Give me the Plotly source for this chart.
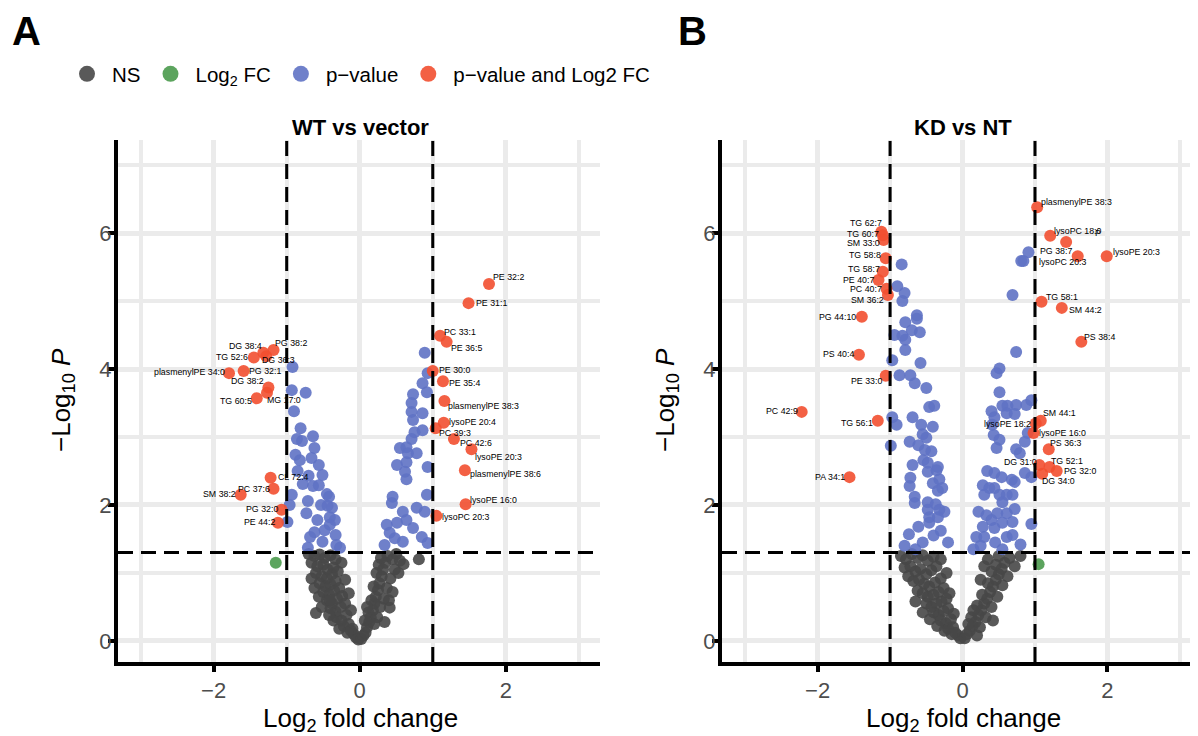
import plotly.graph_objects as go

# ---------------- Panel A: WT vs vector ----------------
A_ns = [(-0.70,1.28),(-0.62,1.25),(-0.55,1.27),(-0.48,1.22),(-0.40,1.26),(-0.33,1.20),(-0.66,1.15),(-0.58,1.10),
        (-0.50,1.12),(-0.44,1.05),(-0.36,1.08),(-0.60,1.00),(-0.52,0.95),(-0.45,0.92),(-0.38,0.98),(-0.30,1.02),
        (-0.55,0.85),(-0.47,0.80),(-0.40,0.83),(-0.33,0.88),(-0.50,0.72),(-0.42,0.68),(-0.35,0.74),(-0.28,0.78),
        (-0.45,0.60),(-0.38,0.55),(-0.31,0.62),(-0.24,0.66),(-0.40,0.48),(-0.33,0.43),(-0.26,0.50),(-0.20,0.55),
        (-0.32,0.35),(-0.25,0.30),(-0.18,0.38),(-0.22,0.22),(-0.15,0.25),(-0.12,0.15),(-0.08,0.10),(-0.05,0.05),
        (-0.02,0.02),(-0.60,0.41),(-0.10,0.18),(-0.17,0.12),(-0.28,0.18),(-0.36,0.30),(-0.42,0.38),(-0.52,0.50),
        (-0.56,0.65),(-0.62,0.78),(-0.66,0.92),(-0.25,1.15),(-0.20,0.90),(-0.15,0.70),(-0.12,0.45),(-0.41,0.60),
        (0.02,0.03),(0.05,0.08),(0.08,0.12),(0.10,0.20),(0.13,0.28),(0.15,0.35),(0.12,0.42),(0.18,0.45),
        (0.20,0.55),(0.16,0.60),(0.22,0.65),(0.25,0.75),(0.19,0.80),(0.27,0.85),(0.30,0.95),(0.23,1.00),
        (0.32,1.05),(0.26,1.12),(0.35,1.15),(0.29,1.22),(0.38,1.25),(0.45,1.20),(0.50,1.28),(0.55,1.18),
        (0.48,1.05),(0.42,0.92),(0.37,0.78),(0.33,0.62),(0.28,0.50),(0.24,0.35),(0.20,0.25),(0.40,0.60),
        (0.45,0.72),(0.60,1.13),(0.81,1.20),(0.53,1.00),(0.41,0.49),(0.34,0.28),(0.07,0.30),(0.10,0.50)]
A_fc = [(-1.15,1.15)]
A_p = [(-0.92,4.03),(-0.93,3.69),(-0.74,3.65),(-0.90,3.38),(-0.81,3.13),(-0.86,2.97),(-0.64,3.01),(-0.79,2.94),
       (-0.62,2.84),(-0.88,2.74),(-0.56,2.59),(-0.85,2.50),(-0.70,2.43),(-0.51,2.44),(-0.78,2.31),(-0.64,2.28),
       (-0.56,2.29),(-0.45,2.16),(-0.93,2.15),(-0.42,2.12),(-0.71,2.06),(-0.53,2.00),(-0.44,1.99),(-0.96,2.00),
       (-0.38,1.96),(-0.73,1.88),(-0.41,1.82),(-0.99,1.75),(-0.34,1.78),(-0.62,1.60),(-0.68,1.53),(-0.33,1.56),
       (-0.41,1.71),(-0.51,1.46),(-0.32,1.41),(-0.71,1.37),(-0.27,1.37),(-0.82,2.66),(-0.66,2.69),(-0.48,1.63),
       (-0.58,1.78),
       (0.89,4.24),(0.93,3.94),(0.86,3.79),(0.73,3.63),(0.92,3.66),(0.71,3.50),(0.71,3.37),(0.73,3.25),
       (0.86,3.35),(0.86,3.10),(0.75,3.07),(0.71,2.97),(0.55,2.84),(0.64,2.85),(0.66,2.76),(0.78,2.76),
       (0.51,2.59),(0.64,2.63),(0.93,2.56),(0.62,2.49),(0.64,2.38),(0.45,2.12),(0.44,2.03),(0.59,1.90),
       (0.78,1.96),(0.89,1.90),(0.92,2.15),(0.37,1.71),(0.51,1.74),(0.64,1.78),(0.41,1.59),(0.73,1.66),
       (0.85,1.53),(0.34,1.41),(0.48,1.51),(0.59,1.46),(0.93,1.44)]
A_both = [(-1.18,4.28),(-1.32,4.24),(-1.45,4.17),(-1.28,4.19),(-1.79,3.94),(-1.59,3.97),(-1.25,3.73),(-1.27,3.65),
          (-1.41,3.57),(-1.22,2.40),(-1.18,2.24),(-1.63,2.15),(-1.07,1.93),(-1.12,1.74),
          (1.77,5.25),(1.49,4.97),(1.10,4.49),(1.19,4.40),(1.00,3.97),(1.14,3.82),(1.16,3.53),(1.15,3.21),
          (1.04,3.13),(1.29,2.97),(1.53,2.82),(1.44,2.51),(1.45,2.01),(1.05,1.84)]
A_labels = ["PG 38:2","DG 38:4","TG 52:6","DG 36:3","plasmenylPE 34:0","PG 32:1","DG 38:2","MG 17:0",
            "TG 60:5","CL 72:4","PC 37:6","SM 38:2","PG 32:0","PE 44:2",
            "PE 32:2","PE 31:1","PC 33:1","PE 36:5","PE 30:0","PE 35:4","plasmenylPE 38:3","lysoPE 20:4",
            "PC 39:3","PC 42:6","lysoPE 20:3","plasmenylPE 38:6","lysoPE 16:0","lysoPC 20:3"]
# label placement (anchor, x shift px, y shift px)
A_label_pos = [("left",-1,7),("right",1,7),("right",-4,1),("left",-6,-4),("right",-2,1),("left",3,0),("right",-2,6),
               ("left",-2,-7),("right",-3,-3),("left",5,1),("right",-2,0),("right",-3,1),("right",-2,1),("right",-1,1),
               ("left",2,7),("left",5,0),("left",2,4),("left",2,-6),("left",4,1),("left",4,-2),("left",2,-5),
               ("left",3,1),("left",1,-5),("left",4,-4),("left",2,-8),("left",3,-4),("left",2,4),("left",4,-1)]

# ---------------- Panel B: KD vs NT ----------------
B_ns = [(-0.85,1.25),(-0.78,1.20),(-0.70,1.28),(-0.62,1.22),(-0.55,1.26),(-0.48,1.18),(-0.40,1.24),(-0.80,1.08),
        (-0.72,1.10),(-0.65,1.02),(-0.58,1.06),(-0.50,0.98),(-0.43,1.04),(-0.36,1.10),(-0.75,0.95),(-0.68,0.88),
        (-0.60,0.90),(-0.53,0.84),(-0.46,0.80),(-0.38,0.86),(-0.30,0.92),(-0.62,0.74),(-0.55,0.70),(-0.48,0.65),
        (-0.40,0.68),(-0.33,0.72),(-0.26,0.78),(-0.50,0.55),(-0.43,0.50),(-0.36,0.55),(-0.29,0.58),(-0.22,0.62),
        (-0.40,0.42),(-0.33,0.38),(-0.26,0.44),(-0.20,0.48),(-0.30,0.30),(-0.23,0.26),(-0.16,0.32),(-0.20,0.18),
        (-0.13,0.20),(-0.10,0.12),(-0.06,0.08),(-0.03,0.04),(-0.15,0.10),(-0.25,0.15),(-0.35,0.22),(-0.45,0.32),
        (-0.55,0.42),(-0.65,0.58),(-0.12,0.40),(-0.18,0.70),(-0.22,1.00),(-0.30,1.20),
        (0.03,0.04),(0.06,0.10),(0.10,0.15),(0.14,0.22),(0.18,0.28),(0.12,0.35),(0.22,0.38),(0.26,0.45),
        (0.20,0.52),(0.30,0.55),(0.34,0.62),(0.27,0.68),(0.38,0.72),(0.42,0.80),(0.35,0.85),(0.46,0.90),
        (0.50,0.98),(0.40,1.02),(0.54,1.06),(0.46,1.12),(0.58,1.15),(0.35,1.20),(0.50,1.25),(0.65,1.22),
        (0.72,1.10),(0.62,0.95),(0.55,0.82),(0.48,0.65),(0.40,0.50),(0.32,0.35),(0.24,0.20),(0.15,0.45),
        (0.25,0.90),(0.30,1.10),(0.80,1.25),(0.20,0.08),(0.08,0.25),(0.42,0.30)]
B_fc = [(1.05,1.13)]
B_p = [(-0.84,5.54),(-0.90,5.22),(-0.80,5.12),(-0.83,5.00),(-0.63,4.79),(-0.63,4.74),(-0.79,4.69),(-0.70,4.57),
       (-0.59,4.54),(-0.94,4.50),(-0.83,4.49),(-0.79,4.43),(-0.79,4.28),(-0.58,4.09),(-0.97,4.13),(-0.87,3.91),
       (-0.72,3.91),(-0.66,3.79),(-0.50,3.72),(-0.46,3.44),(-0.39,3.46),(-0.97,3.29),(-0.69,3.29),(-0.91,3.18),
       (-0.57,3.18),(-0.41,3.15),(-0.55,3.04),(-0.50,2.99),(-0.99,2.87),(-0.73,2.93),(-0.61,2.88),(-0.52,2.81),
       (-0.43,2.79),(-0.54,2.66),(-0.48,2.62),(-0.69,2.59),(-0.34,2.56),(-0.36,2.51),(-0.48,2.49),(-0.72,2.40),
       (-0.32,2.38),(-0.73,2.28),(-0.41,2.32),(-0.28,2.25),(-0.34,2.21),(-0.66,2.12),(-0.66,2.03),(-0.48,2.04),
       (-0.37,2.01),(-0.48,1.93),(-0.32,1.93),(-0.46,1.82),(-0.25,1.90),(-0.61,1.68),(-0.74,1.57),(-0.46,1.74),
       (-0.34,1.82),(-0.80,1.40),(-0.55,1.45),(-0.40,1.55),(-0.30,1.62),(-0.65,1.35),(-0.20,1.45),
       (0.91,5.72),(0.81,5.59),(0.84,5.59),(0.69,5.09),(0.74,4.25),(0.51,4.01),(0.47,3.94),(0.51,3.66),
       (0.40,3.38),(0.55,3.46),(0.62,3.46),(0.74,3.47),(0.88,3.47),(0.95,3.54),(0.44,3.29),(0.61,3.35),
       (0.72,3.34),(0.41,3.18),(0.43,3.03),(0.51,2.96),(0.47,2.84),(0.74,2.82),(0.79,2.76),(0.90,3.06),
       (0.86,2.93),(0.86,2.47),(0.95,2.41),(0.34,2.50),(0.44,2.47),(0.54,2.41),(0.68,2.37),(0.72,2.34),
       (0.28,2.29),(0.37,2.25),(0.30,2.15),(0.51,2.15),(0.61,2.15),(0.69,2.15),(0.44,2.25),(0.55,2.04),
       (0.72,1.94),(0.22,1.90),(0.33,1.85),(0.48,1.88),(0.61,1.88),(0.40,1.78),(0.55,1.74),(0.69,1.75),
       (0.95,1.72),(0.28,1.68),(0.44,1.66),(0.19,1.53),(0.30,1.53),(0.61,1.53),(0.69,1.56),(0.25,1.40),
       (0.45,1.45),(0.80,1.42),(0.15,1.35),(0.55,1.35)]
B_p_labelled = [(0.91,5.72),(0.81,5.59)]
B_p_labels = ["PG 38:7","lysoPC 20:3"]
B_p_label_pos = [("left",10,1),("left",16,-1)]
B_both = [(-1.12,6.02),(-1.10,5.97),(-1.09,5.90),(-1.06,5.63),(-1.10,5.43),(-1.16,5.31),(-1.05,5.18),(-1.03,5.09),
          (-1.39,4.77),(-1.43,4.21),(-1.06,3.90),(-2.22,3.37),(-1.17,3.24),(-1.56,2.41),
          (1.03,6.38),(1.21,5.96),(1.43,5.87),(1.99,5.66),(1.09,4.99),(1.37,4.90),(1.64,4.40),(1.08,3.24),
          (1.01,3.20),(0.98,3.06),(1.19,2.82),(1.06,2.59),(1.20,2.56),(1.30,2.50),(1.10,2.46),(1.59,5.66)]
B_labels = ["TG 62:7","TG 60:7","SM 33:0","TG 58:8","TG 58:7","PE 40:7","PC 40:7","SM 36:2",
            "PG 44:10","PS 40:4","PE 33:0","PC 42:9","TG 56:1","PA 34:1",
            "plasmenylPE 38:3","lysoPC 18:0","P","lysoPE 20:3","TG 58:1","SM 44:2","PS 38:4","SM 44:1",
            "lysoPE 18:2","lysoPE 16:0","PS 36:3","DG 31:0","TG 52:1","PG 32:0","DG 34:0",""]
B_label_pos = [("right",3,9),("right",-2,1),("right",-2,-3),("right",-3,3),("right",-1,3),("right",-2,0),("right",-2,0),
               ("right",-2,-5),("right",-4,0),("right",-3,1),("right",-2,-5),("right",-2,1),("right",-3,-2),("right",-3,0),
               ("left",2,5),("left",2,5),("left",27,9),("left",4,4),("left",2,5),("left",5,-2),("left",1,5),("left",0,8),
               ("right",-3,-1),("left",3,0),("left",-1,6),("right",0,3),("left",0,6),("left",5,0),("left",-2,-7),("left",0,0)]

LEGEND_NAMES = ["NS", "Log<sub>2</sub> FC", "p\u2212value", "p\u2212value and Log2 FC"]
COLORS = ["#474747", "#4a9a4c", "#5f72c4", "#f24f30"]

FONT = "Arial, Liberation Sans, Helvetica, sans-serif"

# page is drawn with the browser's default 8px body margin
W, H, OFF = 1190, 728, 8
def PX(px):
    return (px - OFF) / W
def PY(py):
    return 1 - (py - OFF) / H

fig = go.Figure()

panels = [
    dict(ax="", groups=[A_ns, A_fc, A_p, A_both], labs=[(A_both, A_labels, A_label_pos)],
         dom=[PX(118), PX(600)], xr=[-3.31, 3.29], title="WT vs vector", ytx=62, cx=360),
    dict(ax="2", groups=[B_ns, B_fc, B_p, B_both], labs=[(B_both, B_labels, B_label_pos),
                                                         (B_p_labelled, B_p_labels, B_p_label_pos)],
         dom=[PX(722), 1.0], xr=[-3.32, 3.25], title="KD vs NT", ytx=666, cx=963),
]

# legend-only entries
for gi, nm in enumerate(LEGEND_NAMES):
    fig.add_trace(go.Scatter(x=[None], y=[None], mode="markers", name=nm, showlegend=True,
                             marker=dict(size=16, color=COLORS[gi], opacity=0.9)))

annotations = []
for pi, p in enumerate(panels):
    xa, ya = "x" + p["ax"], "y" + p["ax"]
    for gi, pts in enumerate(p["groups"]):
        fig.add_trace(go.Scatter(
            x=[q[0] for q in pts], y=[q[1] for q in pts], mode="markers",
            name=LEGEND_NAMES[gi], showlegend=False,
            marker=dict(size=12, color=COLORS[gi], opacity=0.9, line=dict(width=0)),
            xaxis=xa, yaxis=ya, hoverinfo="skip"))
    for pts, labs, pos in p["labs"]:
        for (x, y), t, (anc, dx, dy) in zip(pts, labs, pos):
            if not t:
                continue
            annotations.append(dict(x=x, y=y, xref=xa, yref=ya, text=t, showarrow=False,
                                    xanchor=anc, yanchor="middle", xshift=dx, yshift=dy,
                                    font=dict(size=8.8, color="black", family=FONT)))
    for xv in (-1, 1):
        fig.add_shape(type="line", xref=xa, yref=ya + " domain", x0=xv, x1=xv, y0=0, y1=1,
                      line=dict(color="black", width=3, dash="15px,8px"))
    fig.add_shape(type="line", xref=xa + " domain", yref=ya, x0=0, x1=1, y0=1.30103, y1=1.30103,
                  line=dict(color="black", width=3, dash="15px,8px"))
    cx = PX(p["cx"])
    annotations.append(dict(x=cx, y=PY(128), xref="paper", yref="paper", text="<b>" + p["title"] + "</b>",
                            showarrow=False, xanchor="center", yanchor="middle",
                            font=dict(size=22, color="black", family=FONT)))
    annotations.append(dict(x=cx, y=PY(719), xref="paper", yref="paper", text="Log<sub>2</sub> fold change",
                            showarrow=False, xanchor="center", yanchor="middle",
                            font=dict(size=26, color="black", family=FONT)))
    annotations.append(dict(x=PX(p["ytx"]), y=PY(400), xref="paper", yref="paper",
                            text="\u2212Log<sub>10</sub> <i>P</i>", textangle=-90,
                            showarrow=False, xanchor="center", yanchor="middle",
                            font=dict(size=26, color="black", family=FONT)))

annotations.append(dict(x=PX(26), y=PY(31), xref="paper", yref="paper", text="<b>A</b>", showarrow=False,
                        xanchor="center", yanchor="middle", font=dict(size=40, color="black", family=FONT)))
annotations.append(dict(x=PX(692), y=PY(31), xref="paper", yref="paper", text="<b>B</b>", showarrow=False,
                        xanchor="center", yanchor="middle", font=dict(size=40, color="black", family=FONT)))

def xaxis(dom, xr, anchor):
    return dict(domain=dom, range=xr, anchor=anchor, tickvals=[-2, 0, 2], showline=True, linecolor="black",
                linewidth=4, ticks="outside", ticklen=6, tickwidth=4, tickcolor="black",
                tickfont=dict(size=22, color="#4d4d4d", family=FONT), showgrid=True, gridcolor="#ebebeb",
                gridwidth=5, zeroline=False,
                minor=dict(tickvals=[-3, -1, 1, 3], showgrid=True, gridcolor="#ebebeb", gridwidth=4, ticks=""))

def yaxis(anchor):
    return dict(domain=[PY(662), PY(140)], range=[-0.31, 7.37], anchor=anchor, tickvals=[0, 2, 4, 6],
                showline=True, linecolor="black", linewidth=4, ticks="outside", ticklen=6, tickwidth=4,
                tickcolor="black", tickfont=dict(size=22, color="#4d4d4d", family=FONT), showgrid=True,
                gridcolor="#ebebeb", gridwidth=5, zeroline=False, ticklabelstandoff=-8,
                minor=dict(tickvals=[1, 3, 5, 7], showgrid=True, gridcolor="#ebebeb", gridwidth=4, ticks=""))

fig.update_layout(
    width=W, height=H, margin=dict(l=0, r=0, t=0, b=0), paper_bgcolor="white", plot_bgcolor="white",
    xaxis=xaxis(panels[0]["dom"], panels[0]["xr"], "y"), yaxis=yaxis("x"),
    xaxis2=xaxis(panels[1]["dom"], panels[1]["xr"], "y2"), yaxis2=yaxis("x2"),
    annotations=annotations,
    legend=dict(orientation="h", x=PX(62), y=PY(74), xanchor="left", yanchor="middle",
                font=dict(size=20.5, color="black", family=FONT), itemsizing="trace", itemwidth=40,
                bgcolor="rgba(0,0,0,0)"),
    font=dict(family=FONT),
)

fig.write_html("out.html")
